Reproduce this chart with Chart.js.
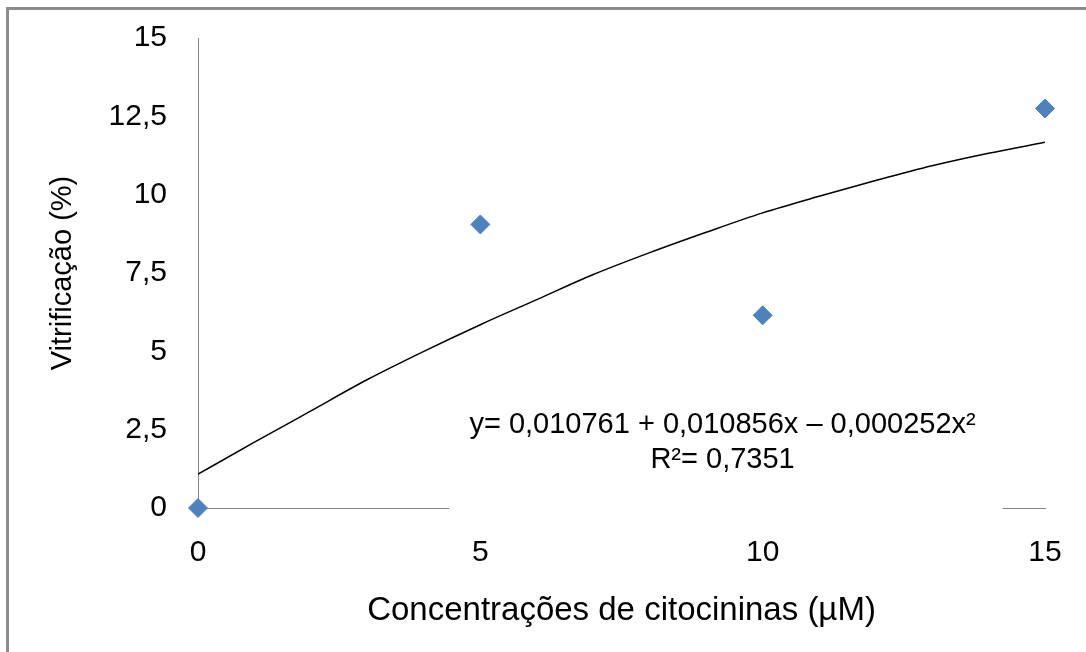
<!DOCTYPE html>
<html lang="pt-BR">
<head>
<meta charset="utf-8">
<title>Vitrificação</title>
<script src="https://cdn.jsdelivr.net/npm/chart.js@4.4.1/dist/chart.umd.min.js"></script>
<style>
    html, body {
        margin: 0;
        padding: 0;
        background: #ffffff;
        overflow: hidden;
    }
    #frame {
        position: absolute;
        left: 6px;
        top: 7px;
        width: 2000px;
        height: 2000px;
        border-left: 3px solid #8c8c8c;
        border-top: 3px solid #8c8c8c;
    }
    #chart-box {
        position: absolute;
        left: 0;
        top: 0;
        width: 1086px;
        height: 652px;
    }
</style>
</head>
<body>
<div id="frame"></div>
<div id="chart-box">
    <canvas id="vitrification-chart" width="1086" height="652"></canvas>
</div>
<script>
// pontos observados
const concentrations = [0, 5, 10, 15];
const vitrification = [0, 9.05, 6.15, 12.75];

// linha de tendência
const trendConcentrations = [0, 1, 2, 3, 4, 5, 6, 7, 8, 9, 10, 11, 12, 13, 14, 15];
const trendVitrification = [1.08, 2.1, 3.1, 4.1, 5.0, 5.85, 6.65, 7.45, 8.15, 8.8, 9.42, 9.95, 10.45, 10.92, 11.32, 11.67];

const xTicks = [0, 5, 10, 15];
const yTicks = [0, 2.5, 5, 7.5, 10, 12.5, 15];

const equationLines = ['y= 0,010761 + 0,010856x \u2013 0,000252x\u00b2', 'R\u00b2= 0,7351'];

const fontFamily = "'Liberation Sans', Arial, sans-serif";
const axisColor = '#868686';
const pointColor = '#4f81bd';

function formatTick(value) {
    return String(value).replace('.', ',');
}

const equationBox = {
    id: 'equationBox',
    afterDatasetsDraw(chart) {
        const { ctx, scales } = chart;
        const x = scales.x;
        const y = scales.y;

        const left = x.getPixelForValue(4.45);
        const right = x.getPixelForValue(14.25);
        const top = y.getPixelForValue(3.6);
        const bottom = y.getPixelForValue(-0.25);

        ctx.save();
        ctx.fillStyle = '#ffffff';
        ctx.fillRect(left, top, right - left, bottom - top);

        ctx.fillStyle = '#000000';
        ctx.font = '29px ' + fontFamily;
        ctx.textAlign = 'center';
        ctx.textBaseline = 'middle';
        const centerX = x.getPixelForValue(9.29);
        ctx.fillText(equationLines[0], centerX, y.getPixelForValue(2.65));
        ctx.fillText(equationLines[1], centerX, y.getPixelForValue(1.53));
        ctx.restore();
    },
};

const chartCanvas = document.getElementById('vitrification-chart');

new Chart(chartCanvas, {
    type: 'scatter',
    data: {
        datasets: [
            {
                label: 'Tendência',
                data: trendConcentrations.map((c, i) => ({ x: c, y: trendVitrification[i] })),
                showLine: true,
                borderColor: '#000000',
                borderWidth: 1.5,
                pointRadius: 0,
                cubicInterpolationMode: 'monotone',
                order: 2,
            },
            {
                label: 'Vitrificação',
                data: concentrations.map((c, i) => ({ x: c, y: vitrification[i] })),
                pointStyle: 'rectRot',
                pointRadius: 9.5,
                pointBackgroundColor: pointColor,
                pointBorderColor: pointColor,
                pointBorderWidth: 1,
                clip: false,
                order: 1,
            },
        ],
    },
    options: {
        responsive: false,
        animation: false,
        layout: {
            padding: { left: 10, top: 38, right: 41, bottom: 0 },
        },
        plugins: {
            legend: { display: false },
            tooltip: { enabled: false },
        },
        scales: {
            x: {
                type: 'linear',
                min: 0,
                max: 15,
                afterBuildTicks: (scale) => {
                    scale.ticks = xTicks.map((v) => ({ value: v }));
                },
                afterFit: (scale) => {
                    scale.height = 144;
                    scale.paddingLeft = 0;
                    scale.paddingRight = 0;
                },
                grid: { display: false, drawTicks: false },
                border: { display: true, color: axisColor, width: 1 },
                ticks: {
                    padding: 27,
                    color: '#000000',
                    font: { family: fontFamily, size: 30 },
                    callback: formatTick,
                },
                title: {
                    display: true,
                    text: 'Concentrações de citocininas (µM)',
                    color: '#000000',
                    font: { family: fontFamily, size: 33 },
                    padding: { top: 0, bottom: 21 },
                },
            },
            y: {
                type: 'linear',
                min: 0,
                max: 15,
                afterBuildTicks: (scale) => {
                    scale.ticks = yTicks.map((v) => ({ value: v }));
                },
                afterFit: (scale) => {
                    scale.width = 188;
                    scale.paddingTop = 0;
                    scale.paddingBottom = 0;
                },
                grid: { display: false, drawTicks: false },
                border: { display: true, color: axisColor, width: 1 },
                ticks: {
                    padding: 31,
                    color: '#000000',
                    font: { family: fontFamily, size: 30 },
                    callback: formatTick,
                },
                title: {
                    display: true,
                    text: 'Vitrificação (%)',
                    color: '#000000',
                    font: { family: fontFamily, size: 29 },
                    padding: { top: 36, bottom: 0 },
                },
            },
        },
    },
    plugins: [equationBox],
});
</script>
</body>
</html>
